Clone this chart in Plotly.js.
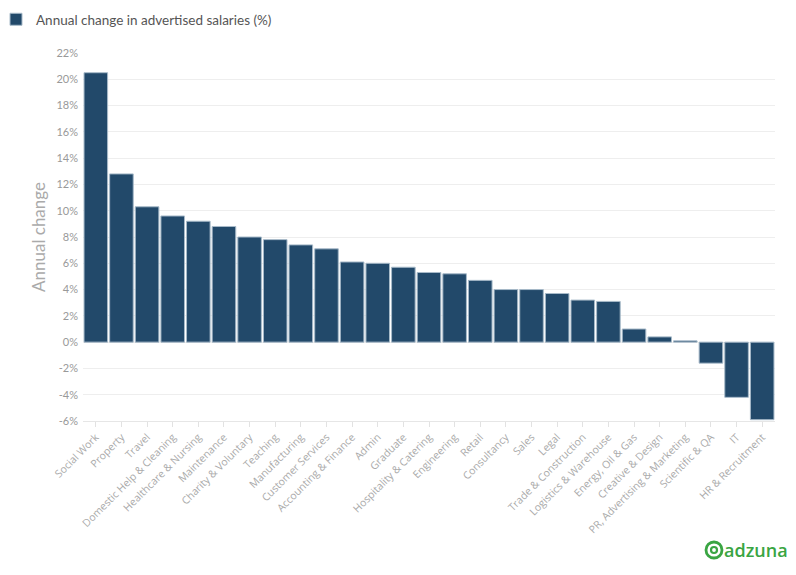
<!DOCTYPE html>
<html>
<head>
<meta charset="utf-8">
<script src="https://cdn.plot.ly/plotly-3.0.1.min.js"></script>
<style>html,body{margin:0;padding:0;background:#fff;}#chart{width:796px;height:575px;}</style>
</head>
<body>
<div id="chart"></div>
<script>
const categories = ["Social Work","Property","Travel","Domestic Help & Cleaning","Healthcare & Nursing","Maintenance","Charity & Voluntary","Teaching","Manufacturing","Customer Services","Accounting & Finance","Admin","Graduate","Hospitality & Catering","Engineering","Retail","Consultancy","Sales","Legal","Trade & Construction","Logistics & Warehouse","Energy, Oil & Gas","Creative & Design","PR, Advertising & Marketing","Scientific & QA","IT","HR & Recruitment"];
const salaryChange = [20.5,12.8,10.3,9.6,9.2,8.8,8.0,7.8,7.4,7.1,6.1,6.0,5.7,5.3,5.2,4.7,4.0,4.0,3.7,3.2,3.1,1.0,0.4,0.1,-1.6,-4.2,-5.9];
const yTicks = [-6,-4,-2,0,2,4,6,8,10,12,14,16,18,20,22];
const seriesName = "Annual change in advertised salaries (%)";

// pixel helpers for paper coords (plot area: x 83..775, y 53..421)
const L = 83, R = 21, T = 53, B = 154, W = 796, H = 575;
const pw = W - L - R, ph = H - T - B;
const px = x => (x - L) / pw;
const py = y => (H - B - y) / ph;

const trace = {
  type: 'bar',
  x: categories,
  y: salaryChange,
  name: seriesName,
  marker: {color: '#22496a', line: {color: '#a7bac9', width: 1}},
  showlegend: true
};

const layout = {
  width: W, height: H,
  margin: {l: L, r: R, t: T, b: B, pad: 0, autoexpand: false},
  paper_bgcolor: '#fff', plot_bgcolor: '#fff',
  bargap: 0.08,
  font: {family: 'Lato, "Open Sans", sans-serif', color: '#999'},
  showlegend: true,
  legend: {
    x: px(-4), y: py(4), xanchor: 'left', yanchor: 'top',
    orientation: 'h',
    font: {family: 'Lato, sans-serif', size: 13.5, color: '#555'},
    itemwidth: 30
  },
  xaxis: {
    type: 'category',
    automargin: false,
    tickangle: -45,
    tickfont: {family: '"Open Sans", sans-serif', size: 10.5, color: '#aaa'},
    ticks: 'outside', ticklen: 5, tickcolor: '#e2e2e2',
    showline: true, linecolor: '#e6e6e6', linewidth: 1,
    showgrid: false, fixedrange: true
  },
  yaxis: {
    automargin: false,
    range: [-6, 22],
    tickvals: yTicks,
    ticktext: yTicks.map(v => v + '%'),
    tickfont: {family: 'Lato, sans-serif', size: 11, color: '#999'},
    gridcolor: '#eeeeee', gridwidth: 1,
    zeroline: false, showline: false,
    ticks: '', ticklabelstandoff: 4,
    title: {text: 'Annual change', font: {family: 'Lato, sans-serif', size: 17, color: '#aaa'}, standoff: 6},
    fixedrange: true
  },
  shapes: [
    {type: 'circle', xref: 'paper', yref: 'paper',
     x0: px(706), x1: px(722), y0: py(558), y1: py(542),
     line: {color: '#3aa543', width: 2.8}},
    {type: 'circle', xref: 'paper', yref: 'paper',
     x0: px(711), x1: px(717), y0: py(553), y1: py(547),
     line: {color: '#3aa543', width: 2.2}}
  ],
  annotations: [
    {xref: 'paper', yref: 'paper', x: px(722), y: py(549.5), xanchor: 'left', yanchor: 'middle',
     text: 'adzuna', showarrow: false,
     font: {family: '"Open Sans", sans-serif', size: 18, color: '#3aa543', weight: 600}}
  ]
};

Plotly.newPlot('chart', [trace], layout, {displayModeBar: false, staticPlot: true});
</script>
</body>
</html>
